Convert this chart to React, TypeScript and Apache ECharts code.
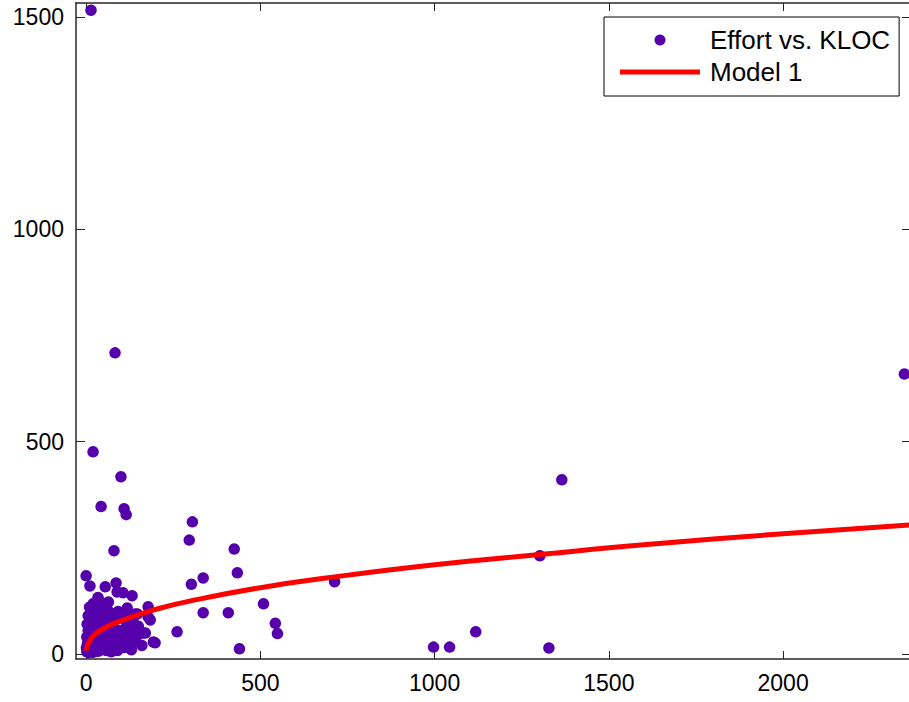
import React, { useEffect, useRef } from "react";
import * as echarts from "echarts";

const xTicks = [0, 500, 1000, 1500, 2000];
const yTicks = [0, 500, 1000, 1500];

// Effort vs. KLOC observations [KLOC, Effort]
const effortVsKloc: number[][] = [
  [14, 1516], [83, 709], [20, 476], [100, 417], [43, 347], [109, 342], [115, 328],
  [80, 243], [0, 184], [11, 160], [55, 158], [86, 167], [89, 146], [106, 144],
  [132, 137], [34, 133], [178, 111], [184, 80], [135, 75], [149, 45], [126, 16],
  [98, 97], [261, 52], [193, 28], [170, 49], [164, 49], [198, 26], [147, 94],
  [296, 268], [305, 311], [302, 164], [336, 179], [336, 97], [425, 247], [434, 191],
  [408, 97], [440, 12], [509, 118], [543, 72], [549, 48], [713, 170], [997, 16],
  [1043, 16], [1118, 52], [1302, 231], [1365, 410], [1328, 14], [2348, 659],
  // dense cluster near the origin
  [2, 5], [5, 12], [8, 3], [10, 20], [12, 8], [15, 30], [18, 15], [20, 4], [22, 40],
  [25, 22], [28, 10], [30, 55], [33, 35], [35, 6], [38, 18], [40, 45], [42, 28],
  [45, 60], [48, 12], [50, 38], [52, 22], [55, 70], [58, 8], [60, 48], [62, 30],
  [65, 15], [68, 58], [70, 40], [72, 5], [75, 25], [78, 65], [80, 50], [85, 20],
  [88, 35], [90, 8], [95, 55], [100, 30], [105, 45], [110, 15], [115, 60], [120, 25],
  [125, 40], [130, 10], [135, 50], [140, 30], [3, 70], [6, 90], [10, 110], [14, 80],
  [18, 100], [22, 75], [26, 120], [30, 95], [35, 85], [38, 125], [42, 105], [46, 78],
  [50, 95], [55, 115], [60, 88], [65, 100], [70, 80], [75, 92], [85, 85], [92, 100],
  [100, 88], [108, 95], [115, 75], [125, 92], [130, 80], [141, 94], [178, 87],
  [2, 40], [4, 25], [6, 55], [1, 15], [16, 62], [28, 68], [160, 20], [150, 65],
  [45, 112], [64, 122], [20, 118], [118, 108],
];

// Model 1 curve
const modelKloc = [0, 2, 5, 10, 20, 50, 120, 200, 300, 500, 700, 1000, 1300, 1600, 2000, 2367];
const modelEffort = [8, 15, 22, 30, 42, 60, 84, 105, 125, 156, 180, 210, 234, 257, 283, 304];

const FONT = "'Liberation Sans', Arial, Helvetica, sans-serif";
const AXIS_COLOR = "#262626";
const plain = (v: number) => String(v);

export default function App() {
  const ref = useRef<HTMLDivElement>(null);
  useEffect(() => {
    document.body.style.margin = "0";
    const chart = echarts.init(ref.current!, undefined, { renderer: "svg" });
    const axisLine = { show: true, onZero: false, lineStyle: { color: AXIS_COLOR, width: 1.5 } };
    chart.setOption({
      animation: false,
      backgroundColor: "#fff",
      grid: { left: 76, right: 1, top: 3, bottom: 43, containLabel: false },
      xAxis: [
        {
          type: "value", position: "bottom", min: -29, max: 2367,
          axisLine, splitLine: { show: false },
          axisTick: { show: true, inside: true, length: 8, customValues: xTicks, lineStyle: { color: AXIS_COLOR, width: 1 } },
          axisLabel: { show: true, customValues: xTicks, formatter: plain, margin: 12, fontSize: 23, color: "#000", fontFamily: FONT },
        },
        {
          type: "value", position: "top", min: -29, max: 2367,
          axisLine, splitLine: { show: false },
          axisTick: { show: true, inside: true, length: 8, customValues: xTicks, lineStyle: { color: AXIS_COLOR, width: 1 } },
          axisLabel: { show: false },
        },
      ],
      yAxis: [
        {
          type: "value", position: "left", min: -12, max: 1533,
          axisLine, splitLine: { show: false },
          axisTick: { show: true, inside: true, length: 9, customValues: yTicks, lineStyle: { color: AXIS_COLOR, width: 1 } },
          axisLabel: { show: true, customValues: yTicks, formatter: plain, margin: 12, fontSize: 23, color: "#000", fontFamily: FONT },
        },
        {
          type: "value", position: "right", min: -12, max: 1533,
          axisLine, splitLine: { show: false },
          axisTick: { show: true, inside: true, length: 9, customValues: yTicks, lineStyle: { color: AXIS_COLOR, width: 1 } },
          axisLabel: { show: false },
        },
      ],
      legend: {
        orient: "vertical",
        left: 604,
        top: 17,
        padding: [9, 9, 10, 16],
        itemGap: 4,
        itemWidth: 80,
        itemHeight: 11,
        borderColor: "#000",
        borderWidth: 1,
        backgroundColor: "#fff",
        textStyle: { fontSize: 26, lineHeight: 28, color: "#000", fontFamily: FONT, padding: [0, 0, 0, 5] },
        data: [
          { name: "Effort vs. KLOC", icon: "circle", itemStyle: { color: "#5500AA", opacity: 1 } },
          { name: "Model 1", icon: "path://M0 0H80V5H0Z", itemStyle: { color: "#FF0000" } },
        ],
      },
      series: [
        {
          name: "Effort vs. KLOC",
          type: "scatter",
          xAxisIndex: 0, yAxisIndex: 0,
          symbol: "circle",
          symbolSize: 11.5,
          itemStyle: { color: "#5500AA", opacity: 1 },
          data: effortVsKloc,
          z: 2,
        },
        {
          name: "Model 1",
          type: "line",
          xAxisIndex: 0, yAxisIndex: 0,
          symbol: "none",
          smooth: true,
          lineStyle: { color: "#FF0000", width: 5 },
          itemStyle: { color: "#FF0000" },
          data: modelKloc.map((k, i) => [k, modelEffort[i]]),
          z: 3,
        },
      ],
    });
    return () => chart.dispose();
  }, []);
  return (
    <div style={{ position: "fixed", left: 0, top: 0, width: 909, height: 702, overflow: "hidden", background: "#fff" }}>
      <div ref={ref} style={{ width: 912, height: 702 }} />
    </div>
  );
}
